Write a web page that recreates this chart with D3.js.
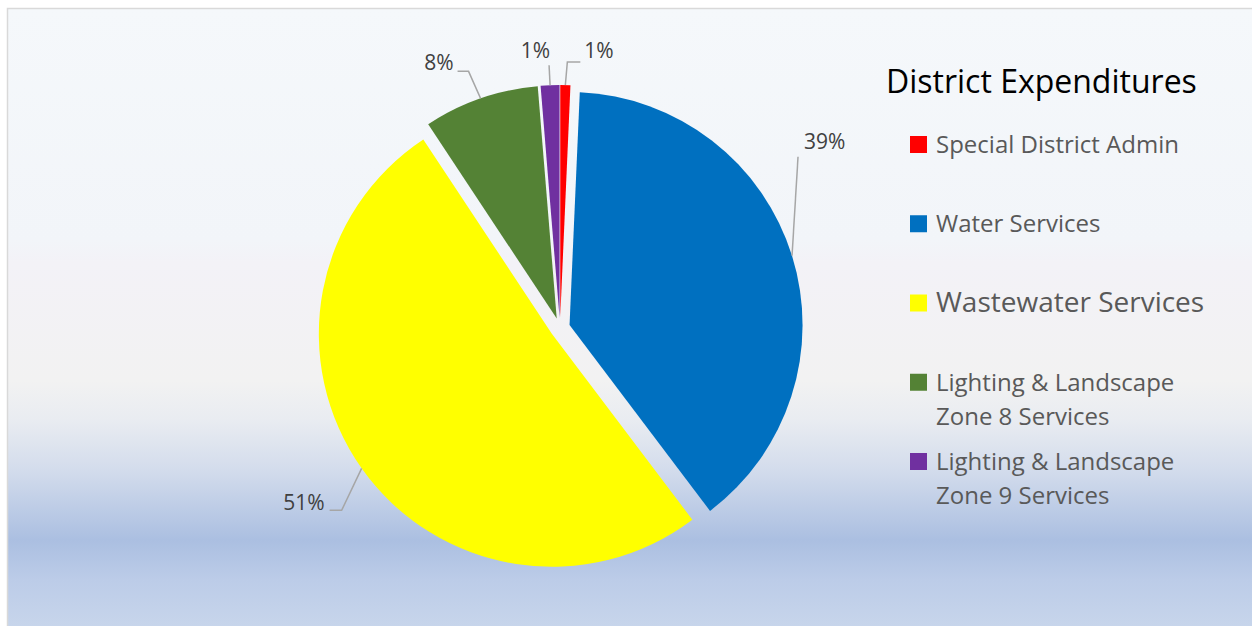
<!DOCTYPE html>
<head>
    <meta charset="utf-8">
</head>

<style type="text/css">
    body {
        margin: 0;
        background: #fff;
        font-family: "Open Sans", sans-serif;
    }
    .leader {
        fill: none;
        stroke: #a6a6a6;
        stroke-width: 1.5;
    }
    .pct-label {
        fill: #404040;
        font-size: 21px;
    }
    .legend-text {
        fill: #595959;
        font-size: 24px;
    }
    .chart-title {
        fill: #000;
        font-size: 32px;
    }
</style>

<body>
    <div class="g-chart-container"></div>
</body>

<script src="https://cdnjs.cloudflare.com/ajax/libs/d3/7.8.5/d3.min.js"></script>

<script>

// data, clockwise from 12 o'clock
var categories = ["Special District Admin", "Water Services", "Wastewater Services",
    "Lighting & Landscape Zone 8 Services", "Lighting & Landscape Zone 9 Services"];
var values = [0.7, 39.0, 51.0, 8.0, 1.3];
var colors = ["#ff0000", "#0070c0", "#ffff00", "#548235", "#7030a0"];
var legendLines = [
    ["Special District Admin"],
    ["Water Services"],
    ["Wastewater Services"],
    ["Lighting & Landscape", "Zone 8 Services"],
    ["Lighting & Landscape", "Zone 9 Services"]
];
var chartTitle = "District Expenditures";

// layout
var W = 1252, H = 626;
var cx = 560, cy = 328, R = 233, explode = 10;

// leader lines: elbow + end offsets from the point on the arc, text offset from the end
var labelLayout = [
    {elbow: [2, -23],   end: [15, -23],  text: [4, -4],  anchor: "start"},
    {elbow: [-1, -20],  end: [-1, -20],  text: [1, -7],  anchor: "end"},
    {elbow: [-20, 42],  end: [-32, 42],  text: [-5, 0],  anchor: "end"},
    {elbow: [-12, -27], end: [-23, -27], text: [-4, -1], anchor: "end"},
    {elbow: [6, -99],   end: [6, -99],   text: [6, -8],  anchor: "start"}
];
// note: order above is red, purple, yellow, green, blue -> remap by category index
var layoutIndex = [0, 4, 2, 3, 1];

var svg = d3.select(".g-chart-container").append("svg")
    .attr("width", W)
    .attr("height", H)
    .style("display", "block");

var defs = svg.append("defs");
var grad = defs.append("linearGradient")
    .attr("id", "bg-grad")
    .attr("gradientUnits", "userSpaceOnUse")
    .attr("x1", 0).attr("y1", 8)
    .attr("x2", 0).attr("y2", H);

[[8, "#f5f8fb"], [240, "#f2f5f9"], [262, "#f3f2f7"], [380, "#f2f2f2"],
 [420, "#e9ecf1"], [470, "#d3dcec"], [540, "#abbfe1"], [580, "#bccce8"], [626, "#c7d5eb"]]
    .forEach(function(s) {
        grad.append("stop")
            .attr("offset", ((s[0] - 8) / (H - 8)))
            .attr("stop-color", s[1]);
    });

svg.append("rect")
    .attr("x", 7.5)
    .attr("y", 8.5)
    .attr("width", W + 10)
    .attr("height", H + 10)
    .attr("fill", "url(#bg-grad)")
    .attr("stroke", "#d9d9d9")
    .attr("stroke-width", 1.5);

var pie = d3.pie()
    .sort(null)
    .value(function(d) { return d; });

var arcs = pie(values);
var total = d3.sum(values);

var arc = d3.arc().innerRadius(0).outerRadius(R);
var arcEdge = d3.arc().innerRadius(R).outerRadius(R);

function shift(d) {
    var mid = (d.startAngle + d.endAngle) / 2;
    return [explode * Math.sin(mid), -explode * Math.cos(mid)];
}

var pieG = svg.append("g")
    .attr("transform", "translate(" + cx + "," + cy + ")");

pieG.selectAll(".slice")
    .data(arcs)
    .enter()
    .append("path")
    .attr("class", "slice")
    .attr("transform", function(d) {
        var s = shift(d);
        return "translate(" + s[0] + "," + s[1] + ")";
    })
    .attr("d", arc)
    .attr("fill", function(d, i) { return colors[i]; });

// leader lines and percent labels
arcs.forEach(function(d, i) {
    var s = shift(d);
    var c = arcEdge.centroid(d);
    var p0 = [c[0] + s[0], c[1] + s[1]];
    var L = labelLayout[layoutIndex[i]];
    var p1 = [p0[0] + L.elbow[0], p0[1] + L.elbow[1]];
    var p2 = [p0[0] + L.end[0], p0[1] + L.end[1]];

    pieG.append("path")
        .attr("class", "leader")
        .attr("d", d3.line()([p0, p1, p2]));

    pieG.append("text")
        .attr("class", "pct-label")
        .attr("x", p2[0] + L.text[0])
        .attr("y", p2[1] + L.text[1])
        .attr("text-anchor", L.anchor)
        .text(Math.round(d.value / total * 100) + "%");
});

// legend
svg.append("text")
    .attr("class", "chart-title")
    .attr("x", 886)
    .attr("y", 93)
    .text(chartTitle);

var legendY = d3.scalePoint()
    .domain(categories)
    .range([153, 470]);

var legend = svg.append("g").selectAll(".legend-item")
    .data(categories)
    .enter()
    .append("g")
    .attr("class", "legend-item")
    .attr("transform", function(d) { return "translate(0," + legendY(d) + ")"; });

legend.append("rect")
    .attr("x", 910)
    .attr("y", -17)
    .attr("width", 17)
    .attr("height", 17)
    .attr("fill", function(d, i) { return colors[i]; });

legend.each(function(d, i) {
    var t = d3.select(this).append("text")
        .attr("class", "legend-text")
        .attr("x", 936)
        .attr("y", 0)
        .style("font-size", i == 2 ? "28px" : null);
    legendLines[i].forEach(function(line, j) {
        t.append("tspan")
            .attr("x", 936)
            .attr("dy", j == 0 ? 0 : 34)
            .text(line);
    });
});

</script>
